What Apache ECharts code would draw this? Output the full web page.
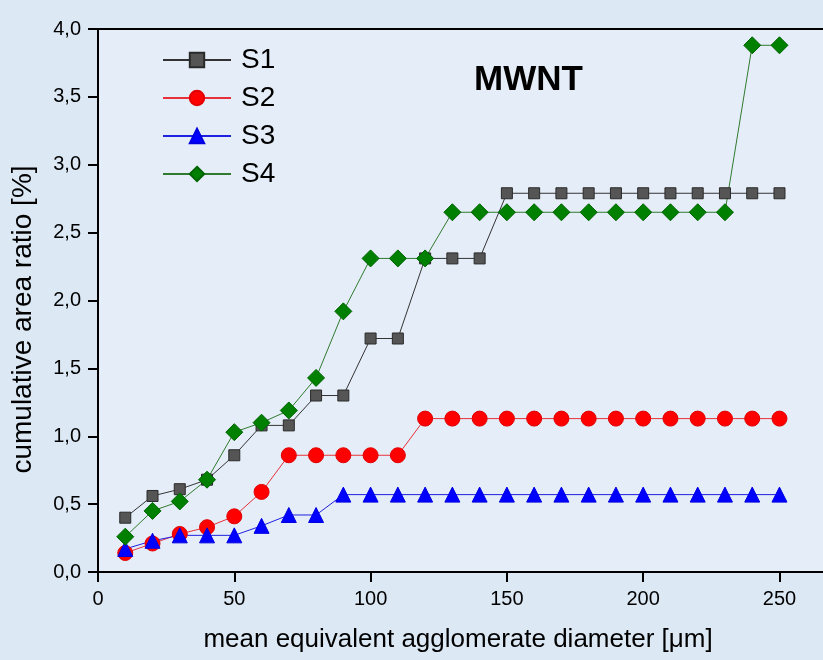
<!DOCTYPE html>
<html>
<head>
<meta charset="utf-8">
<script src="https://cdn.jsdelivr.net/npm/echarts@6/dist/echarts.min.js"></script>
<style>
html,body{margin:0;padding:0;background:#dce8f4;overflow:hidden;}
#c{width:823px;height:660px;}
</style>
</head>
<body>
<div id="c"></div>
<script>
var xValues = [10,20,30,40,50,60,70,80,90,100,110,120,130,140,150,160,170,180,190,200,210,220,230,240,250];
var s1 = [0.40,0.56,0.61,0.68,0.86,1.08,1.08,1.30,1.30,1.72,1.72,2.31,2.31,2.31,2.79,2.79,2.79,2.79,2.79,2.79,2.79,2.79,2.79,2.79,2.79];
var s2 = [0.14,0.21,0.28,0.33,0.41,0.59,0.86,0.86,0.86,0.86,0.86,1.13,1.13,1.13,1.13,1.13,1.13,1.13,1.13,1.13,1.13,1.13,1.13,1.13,1.13];
var s3 = [0.17,0.23,0.27,0.27,0.27,0.34,0.42,0.42,0.57,0.57,0.57,0.57,0.57,0.57,0.57,0.57,0.57,0.57,0.57,0.57,0.57,0.57,0.57,0.57,0.57];
var s4 = [0.26,0.45,0.52,0.68,1.03,1.10,1.19,1.43,1.92,2.31,2.31,2.31,2.65,2.65,2.65,2.65,2.65,2.65,2.65,2.65,2.65,2.65,2.65,3.88,3.88];
var seriesNames = ['S1','S2','S3','S4'];
var xTicks = [0,50,100,150,200,250];
var yTicks = ['0,0','0,5','1,0','1,5','2,0','2,5','3,0','3,5','4,0'];

function pairs(ys){ return xValues.map(function(x,i){ return [x, ys[i]]; }); }

var FONT = 'Liberation Sans, Arial, sans-serif';
var chart = echarts.init(document.getElementById('c'), null, {renderer:'canvas'});
chart.setOption({
  backgroundColor: '#dce8f4',
  animation: false,
  title: {
    text: 'MWNT',
    left: 469, top: 58,
    textStyle: {fontFamily: FONT, fontSize: 35, fontWeight: 'bold', color: '#000'}
  },
  legend: {
    left: 157, top: 41,
    orient: 'vertical',
    itemWidth: 68, itemHeight: 18, itemGap: 10,
    textStyle: {fontFamily: FONT, fontSize: 28, color: '#000', padding: [0,0,0,5]},
    data: seriesNames
  },
  grid: {
    left: 98, top: 29, width: 736, height: 543,
    outerBoundsMode: 'none',
    containLabel: false,
    show: true, backgroundColor: '#e5eef8',
    borderColor: '#000', borderWidth: 2
  },
  xAxis: {
    type: 'value', min: 0, max: 270, interval: 50,
    name: 'mean equivalent agglomerate diameter [\u03bcm]',
    nameLocation: 'middle', nameGap: 55,
    nameTextStyle: {fontFamily: FONT, fontSize: 26, color: '#000', padding: [0,16,0,0]},
    axisLine: {lineStyle: {color: '#000', width: 2}},
    axisTick: {show: true, inside: false, length: 10, lineStyle: {color: '#000', width: 2}},
    axisLabel: {
      fontFamily: FONT, fontSize: 20, color: '#000', margin: 17,
      formatter: function(v){ return xTicks.indexOf(v) >= 0 ? String(v) : ''; }
    },
    splitLine: {show: false}
  },
  yAxis: {
    type: 'value', min: 0, max: 4, interval: 0.5,
    name: 'cumulative area ratio [%]',
    nameLocation: 'middle', nameGap: 61,
    nameTextStyle: {fontFamily: FONT, fontSize: 28, color: '#000', padding: [0,38,0,0]},
    axisLine: {show: true, lineStyle: {color: '#000', width: 2}},
    axisTick: {show: true, inside: false, length: 10, lineStyle: {color: '#000', width: 2}},
    axisLabel: {
      fontFamily: FONT, fontSize: 20, color: '#000', margin: 17,
      formatter: function(v){ var i = Math.round(v/0.5); return yTicks[i] !== undefined ? yTicks[i] : ''; }
    },
    splitLine: {show: false}
  },
  series: [
    {name: 'S1', type: 'line', data: pairs(s1), symbol: 'rect', symbolSize: 11,
     lineStyle: {color: '#333', width: 1},
     itemStyle: {color: '#555', borderColor: '#2a2a2a', borderWidth: 1}},
    {name: 'S2', type: 'line', data: pairs(s2), symbol: 'circle', symbolSize: 15,
     lineStyle: {color: '#e8303a', width: 1},
     itemStyle: {color: '#ff0000', borderColor: '#e00000', borderWidth: 1}},
    {name: 'S3', type: 'line', data: pairs(s3), symbol: 'triangle', symbolSize: 15,
     lineStyle: {color: '#2020e0', width: 1},
     itemStyle: {color: '#0000ff', borderColor: '#0000e0', borderWidth: 1}},
    {name: 'S4', type: 'line', data: pairs(s4), symbol: 'diamond', symbolSize: 17,
     lineStyle: {color: '#2f7a2f', width: 1},
     itemStyle: {color: '#008000', borderColor: '#006400', borderWidth: 1}}
  ]
});
</script>
</body>
</html>
